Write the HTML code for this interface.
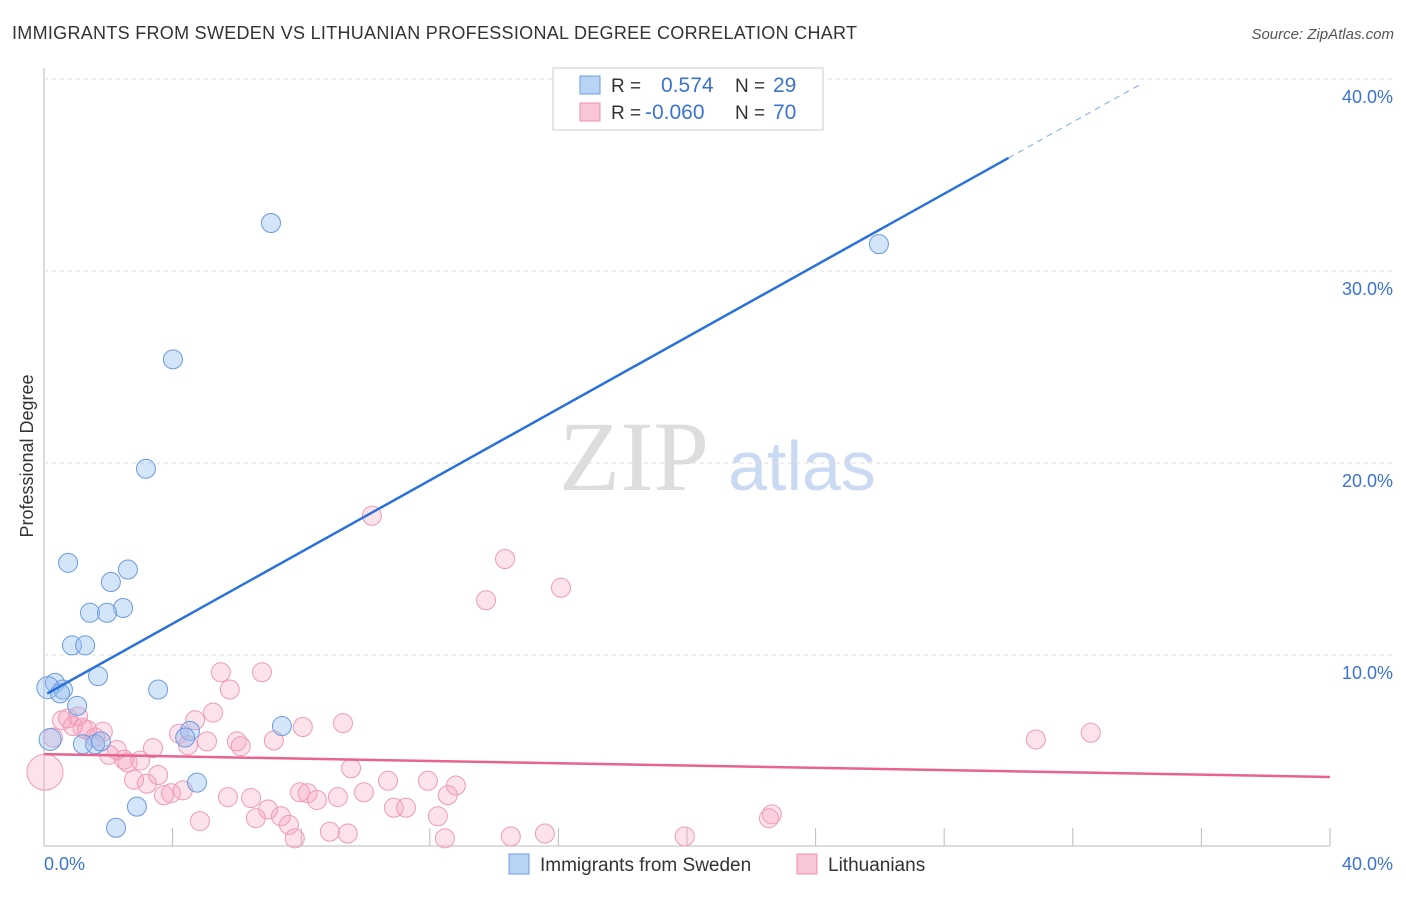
<!DOCTYPE html>
<html><head><meta charset="utf-8"><style>
body{margin:0;background:#fff;font-family:"Liberation Sans",sans-serif;}
</style></head><body>
<svg id="c" width="1406" height="892" font-family="Liberation Sans, sans-serif">
<text x="12" y="39" font-size="18" fill="#333" textLength="845">IMMIGRANTS FROM SWEDEN VS LITHUANIAN PROFESSIONAL DEGREE CORRELATION CHART</text>
<text x="1394" y="39" font-size="15" fill="#555" font-style="italic" text-anchor="end">Source: ZipAtlas.com</text>
<text x="33" y="456" font-size="18" fill="#333" text-anchor="middle" transform="rotate(-90 33 456)">Professional Degree</text>
<text x="634" y="490" font-size="100" fill="#ddd" style="font-family:'Liberation Serif',serif" text-anchor="middle">ZIP</text>
<text x="802" y="490" font-size="70" fill="#c9daf2" text-anchor="middle">atlas</text>
<g id="grid"></g><g id="pts"></g><g id="lines"></g>
<g>
<rect x="553" y="68" width="270" height="62" fill="#fff" stroke="#ccc"/>
<rect x="580" y="76" width="20" height="18" fill="#b9d3f5" stroke="#6d9de0"/>
<rect x="580" y="103" width="20" height="18" fill="#f9c6d6" stroke="#ec8fae"/>
<text x="611" y="92" font-size="19" fill="#333">R =</text><text x="661" y="92" font-size="21" fill="#3b73d1">0.574</text>
<text x="735" y="92" font-size="19" fill="#333">N =</text><text x="773" y="92" font-size="21" fill="#3b73d1">29</text>
<text x="611" y="119" font-size="19" fill="#333">R =</text><text x="645" y="119" font-size="21" fill="#3b73d1">-0.060</text>
<text x="735" y="119" font-size="19" fill="#333">N =</text><text x="773" y="119" font-size="21" fill="#3b73d1">70</text>
</g>
<g>
<rect x="509" y="854" width="20" height="20" fill="#b9d3f5" stroke="#6d9de0"/>
<text x="540" y="871" font-size="19" fill="#333">Immigrants from Sweden</text>
<rect x="797" y="854" width="20" height="20" fill="#f9c6d6" stroke="#ec8fae"/>
<text x="828" y="871" font-size="19" fill="#333">Lithuanians</text>
</g>
<text x="44" y="870" font-size="18" fill="#3b73d1">0.0%</text>
<text x="1393" y="870" font-size="18" fill="#3b73d1" text-anchor="end">40.0%</text>
</svg>
<script>
const blueX=[7.06,4.01,3.17,25.97,0.75,2.61,2.08,2.46,1.43,1.96,0.87,1.28,1.68,0.34,0.59,3.55,0.12,1.03,7.4,4.54,4.39,0.19,1.21,1.59,1.77,4.76,2.89,2.24,0.5];
const blueY=[32.5,25.4,19.7,31.4,14.8,14.45,13.8,12.45,12.2,12.2,10.5,10.5,8.9,8.55,8.2,8.2,8.3,7.35,6.3,6.05,5.7,5.6,5.35,5.35,5.5,3.35,2.1,1.0,8.0];
const pinkX=[10.2,14.34,16.08,13.75,5.5,6.78,5.78,5.26,4.7,9.3,8.05,4.2,5.07,6.0,6.12,7.15,30.85,32.56,0.56,0.75,1.06,0.9,1.34,1.83,1.59,2.27,2.02,2.49,2.99,3.39,4.48,0.28,0.03,9.55,3.55,2.8,3.2,10.7,11.94,12.81,4.32,3.95,3.73,7.96,8.2,9.14,8.49,5.72,6.44,9.95,12.56,10.88,11.26,6.97,12.25,7.37,6.59,4.85,7.62,22.64,22.55,8.89,9.45,7.8,12.47,14.52,15.58,19.93,1.2,2.6];
const pinkY=[17.25,15.0,13.5,12.85,9.1,9.1,8.2,7.0,6.6,6.45,6.25,5.9,5.5,5.5,5.25,5.55,5.6,5.95,6.6,6.7,6.8,6.3,6.1,6.0,5.7,5.05,4.8,4.55,4.5,5.15,5.3,5.7,3.9,4.1,3.75,3.5,3.3,3.45,3.45,3.2,2.95,2.8,2.7,2.85,2.8,2.6,2.45,2.6,2.55,2.85,2.7,2.05,2.05,1.95,1.6,1.6,1.5,1.35,1.15,1.7,1.5,0.8,0.7,0.45,0.45,0.55,0.7,0.55,6.2,4.4];
const yTicks=[10,20,30,40];
const blueTrend=[7.9,0.933];const pinkTrend=[4.84,-0.0298];
const sx=v=>44+v*1286/40, sy=v=>847-v*19.2;
const NS='http://www.w3.org/2000/svg';
function mk(p,t,a){const e=document.createElementNS(NS,t);for(const k in a)e.setAttribute(k,a[k]);p.appendChild(e);return e;}
const g=document.getElementById('grid');
mk(g,'line',{x1:44,y1:68,x2:44,y2:846,stroke:'#bbb'});
mk(g,'line',{x1:44,y1:846,x2:1330,y2:846,stroke:'#bbb'});
for(let i=1;i<=10;i++){const t=mk(g,'line',{x1:sx(i*4),x2:sx(i*4),y1:828,y2:846,stroke:'#bbb'});

}
yTicks.forEach(v=>{const l=mk(g,'line',{x1:44,x2:1394,y1:sy(v),y2:sy(v),stroke:'#ddd','stroke-dasharray':'4,4'});


const t=mk(g,'text',{x:1393,y:sy(v)+24,'font-size':18,fill:'#3b73d1','text-anchor':'end'});t.textContent=v.toFixed(1)+'%';

});
const p=document.getElementById('pts');
pinkX.forEach((x,i)=>{const c=mk(p,'circle',{cx:sx(x),cy:sy(pinkY[i]),r:x<0.1?18:9.5,fill:'rgba(245,160,188,0.3)',stroke:'#ef9ab6','stroke-width':1});

});
blueX.forEach((x,i)=>{const c=mk(p,'circle',{cx:sx(x),cy:sy(blueY[i]),r:x<0.2?11:9.5,fill:'rgba(150,190,240,0.4)',stroke:'#6a9be0','stroke-width':1});

});
const L=document.getElementById('lines');
const bl=mk(L,'line',{x1:sx(0.1),y1:sy(blueTrend[0]+0.1*blueTrend[1]),x2:sx(30),y2:sy(blueTrend[0]+30*blueTrend[1]),stroke:'#2a72d8','stroke-width':2.5});


const bd=mk(L,'line',{x1:sx(30),y1:sy(blueTrend[0]+30*blueTrend[1]),x2:sx(34.1),y2:sy(blueTrend[0]+34.1*blueTrend[1]),stroke:'#7aa7e6','stroke-width':1,'stroke-dasharray':'6,5'});


const pl=mk(L,'line',{x1:sx(0),y1:sy(pinkTrend[0]),x2:sx(40),y2:sy(pinkTrend[0]+40*pinkTrend[1]),stroke:'#e8638f','stroke-width':2.5});


</script>
</body></html>
